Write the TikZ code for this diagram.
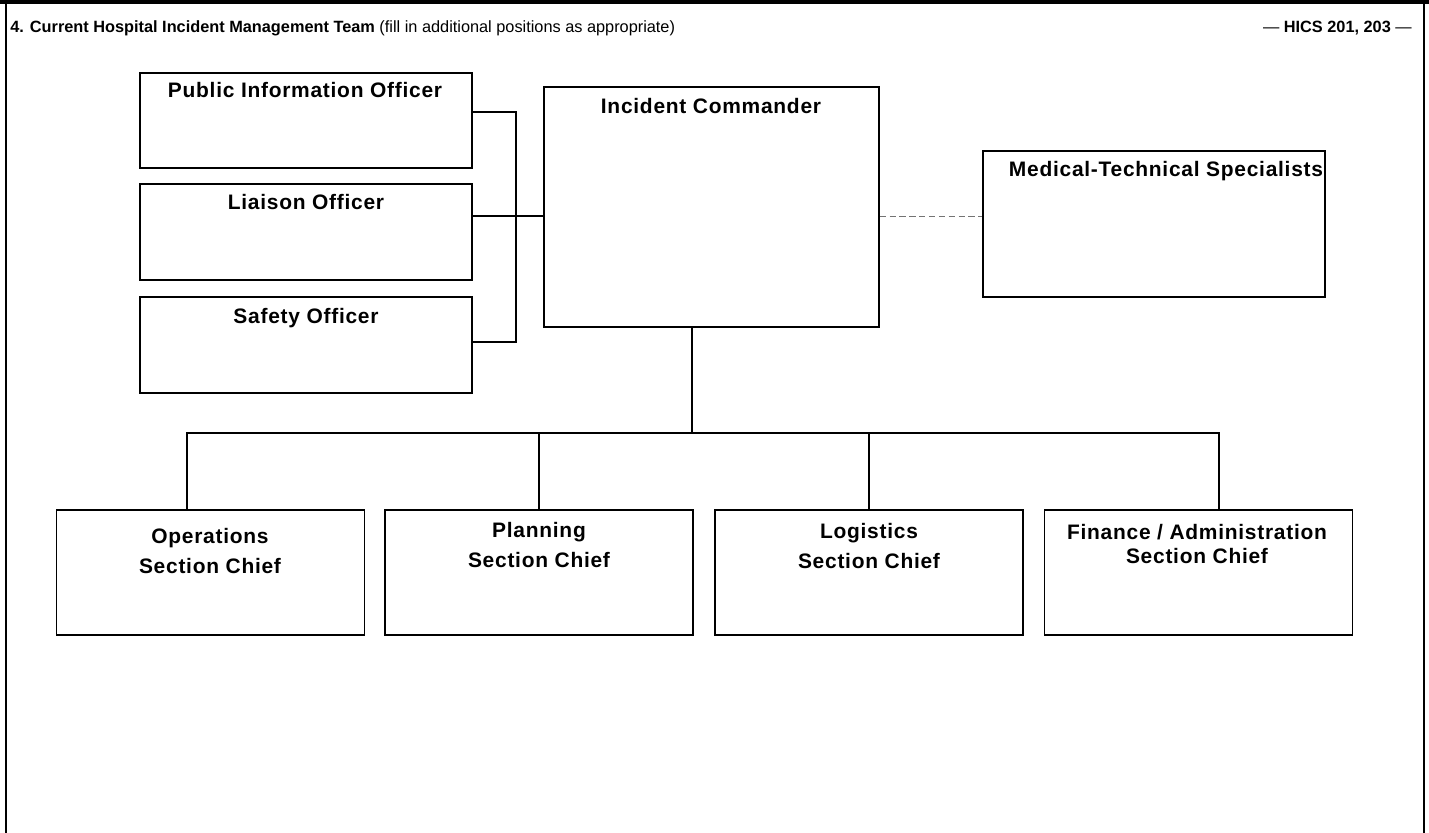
\documentclass[tikz,border=0pt]{standalone}
\usepackage{fontspec}
\setmainfont{Liberation Sans}
\newfontfamily\postfont[LetterSpace=3.5]{Liberation Sans}

\begin{document}
\begin{tikzpicture}[x=0.025cm, y=-0.025cm]
        \tikzstyle{post}=[draw,line width=1pt,inner sep=0pt,minimum width=8.3cm,minimum height=2.4cm]
        \tikzstyle{chief}=[draw,line width=1pt,inner sep=0pt,minimum width=7.7cm,minimum height=3.125cm]
        \tikzstyle{caption}=[inner sep=0pt,align=center,anchor=base,font=\postfont\bfseries\fontsize{14.9}{21.3}\selectfont]
        \tikzstyle{header}=[inner sep=0pt,font=\fontsize{11.6}{14}\selectfont]
        \tikzstyle{link}=[line width=1pt]
        \tikzstyle{aside}=[line width=0.6pt,black!55,dash pattern=on 4.5pt off 2.5pt]

        \useasboundingbox (0,0) rectangle (1429,833);

        % form frame
        \draw[line width=2.85pt] (0,2) -- (1429,2);
        \draw[line width=1.4pt] (6,0) -- (6,833);
        \draw[line width=1.4pt] (1424,0) -- (1424,833);

        \node[header,anchor=base west] (Title) at (10,33) {\textbf{4. Current Hospital Incident Management Team} (fill in additional positions as appropriate)};
        \node[header,anchor=base east] (Forms) at (1412,33) {--- \textbf{HICS 201, 203} ---};

        % command staff
        \node[post,minimum height=2.375cm] (PIO) at (306,120.5) {};
        \node[post] (Liaison) at (306,232) {};
        \node[post] (Safety) at (306,345) {};
        \node[post,minimum width=8.375cm,minimum height=6cm] (Cmd) at (711.5,207) {};
        \node[post,minimum width=8.55cm,minimum height=3.65cm] (MedTech) at (1154,224) {};

        \node[caption] (PIO_t) at (305,98) {Public Information Officer};
        \node[caption] (Liaison_t) at (306,210) {Liaison Officer};
        \node[caption] (Safety_t) at (306,324) {Safety Officer};
        \node[caption] (Cmd_t) at (711,114) {Incident Commander};
        \node[caption] (MedTech_t) at (1166,177) {Medical-Technical Specialists};

        % section chiefs
        \node[chief] (Ops) at (210.5,572.5) {};
        \node[chief] (Plan) at (539,572.5) {};
        \node[chief] (Log) at (869,572.5) {};
        \node[chief] (Fin) at (1198.5,572.5) {};

        \node[caption] (Ops_t) at (210,573) {Operations\\Section Chief};
        \node[caption] (Plan_t) at (539,567) {Planning\\Section Chief};
        \node[caption] (Log_t) at (869,568) {Logistics\\Section Chief};
        \node[caption,font=\postfont\bfseries\fontsize{14.9}{16.4}\selectfont] (Fin_t) at (1197,563) {Finance / Administration\\Section Chief};

        \coordinate (J) at (516,216);
        \coordinate (H) at (692,433);

        \draw[link] (PIO.east |- 0,112) -| (J |- 0,342) -- (Safety.east |- 0,342);
        \draw[link] (Liaison.east |- J) -- (Cmd.west |- J);
        \draw[aside] (Cmd.east |- J) -- (MedTech.west |- J);
        \draw[link] (Cmd.south -| H) -- (H);
        \draw[link] (Ops.north -| 187,0) |- (H) -| (Fin.north -| 1219,0);
        \draw[link] (Plan.north) -- (Plan.north |- H);
        \draw[link] (Log.north) -- (Log.north |- H);
    \end{tikzpicture}
\end{document}
